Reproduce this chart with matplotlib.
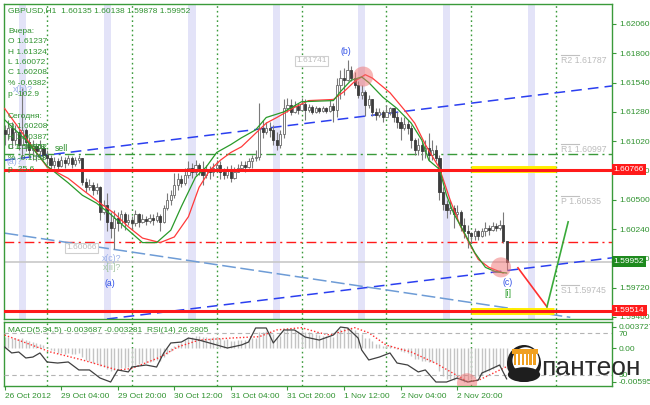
import numpy as np
import matplotlib
matplotlib.use("Agg")
import matplotlib.pyplot as plt
import matplotlib.transforms as mtransforms
from matplotlib.patches import Ellipse, Rectangle

plt.rcParams['font.family'] = ['Liberation Sans', 'DejaVu Sans']

W, H = 650, 405

# ---------------- data: GBPUSD H1, 26 Oct - 5 Nov 2012 ----------------
first_open = 1.6112
closes = [
    1.6108, 1.6114, 1.6103, 1.6110, 1.6099, 1.6112, 1.6101, 1.6094, 1.6098, 1.6093,
    1.6096, 1.6090, 1.6087, 1.6081, 1.6084, 1.6080, 1.6085, 1.6083, 1.6087, 1.6082,
    1.6085, 1.6087, 1.6066, 1.6061, 1.6063, 1.6059, 1.6061, 1.6039, 1.6045, 1.6030,
    1.6025, 1.6034, 1.6029, 1.6037, 1.6030, 1.6032, 1.6029, 1.6037, 1.6030, 1.6033,
    1.6031, 1.6034, 1.6032, 1.6036, 1.6030, 1.6043, 1.6050, 1.6054, 1.6063, 1.6068,
    1.6065, 1.6072, 1.6078, 1.6075, 1.6081, 1.6077, 1.6072, 1.6077, 1.6075, 1.6078,
    1.6081, 1.6075, 1.6072, 1.6077, 1.6069, 1.6075, 1.6078, 1.6081, 1.6079, 1.6084,
    1.6087, 1.6088, 1.6114, 1.6110, 1.6114, 1.6112, 1.6103, 1.6099, 1.6108, 1.6131,
    1.6134, 1.6128, 1.6133, 1.6130, 1.6135, 1.6130, 1.6132, 1.6128, 1.6131, 1.6129,
    1.6131, 1.6129, 1.6133, 1.6130, 1.6152, 1.6158, 1.6156, 1.6165, 1.6158, 1.6152,
    1.6143, 1.6146, 1.6134, 1.6139, 1.6128, 1.6125, 1.6128, 1.6123, 1.6128, 1.6131,
    1.6123, 1.6119, 1.6114, 1.6117, 1.6114, 1.6103, 1.6094, 1.6099, 1.6093, 1.6096,
    1.6090, 1.6094, 1.6087, 1.6057, 1.6046, 1.6041, 1.6043, 1.6037, 1.6039, 1.6028,
    1.6022, 1.60208, 1.6018, 1.6022, 1.6018, 1.6022, 1.6025, 1.6023, 1.6027, 1.6025,
    1.6028, 1.60135, 1.59952]
highs = [
    1.6116, 1.6121, 1.6119, 1.6116, 1.6114, 1.6149, 1.6114, 1.6105, 1.6103, 1.6100,
    1.6103, 1.6099, 1.6094, 1.6090, 1.6088, 1.6087, 1.6089, 1.6088, 1.6090, 1.6089,
    1.6088, 1.6090, 1.6087, 1.6069, 1.6068, 1.6066, 1.6065, 1.6062, 1.6050, 1.6056,
    1.6039, 1.6041, 1.6039, 1.6041, 1.6039, 1.6037, 1.6036, 1.6041, 1.6038, 1.6037,
    1.6036, 1.6037, 1.6037, 1.6039, 1.6037, 1.6045, 1.6056, 1.6059, 1.6074, 1.6074,
    1.6072, 1.6078, 1.6084, 1.6083, 1.6085, 1.6083, 1.6084, 1.6081, 1.6080, 1.6083,
    1.6085, 1.6084, 1.6078, 1.6080, 1.6081, 1.6079, 1.6082, 1.6084, 1.6084, 1.6087,
    1.6090, 1.6094, 1.6136, 1.6121, 1.6119, 1.6119, 1.6116, 1.6110, 1.6112, 1.6139,
    1.6140, 1.6139, 1.6138, 1.6136, 1.6140, 1.6139, 1.6135, 1.6134, 1.6133, 1.6132,
    1.6133, 1.6132, 1.6139, 1.6136, 1.6158, 1.6165, 1.6167, 1.61741, 1.6169, 1.6163,
    1.6155, 1.6152, 1.6147, 1.6143, 1.6139, 1.6131, 1.6131, 1.6130, 1.6134, 1.61324,
    1.6131, 1.6128, 1.6123, 1.6123, 1.6121, 1.6116, 1.6105, 1.6105, 1.6101, 1.6103,
    1.6109, 1.6103, 1.6099, 1.6090, 1.6061, 1.6050, 1.6050, 1.6045, 1.6045, 1.6041,
    1.6034, 1.6028, 1.6021, 1.6025, 1.6023, 1.6025, 1.6030, 1.6028, 1.6030, 1.6029,
    1.6032, 1.60387, 1.60138]
lows = [
    1.6099, 1.6103, 1.6096, 1.6099, 1.6094, 1.6087, 1.6093, 1.6087, 1.6085, 1.6084,
    1.6087, 1.6085, 1.6081, 1.6077, 1.6078, 1.6077, 1.6079, 1.6078, 1.6081, 1.6078,
    1.6080, 1.6083, 1.6063, 1.6057, 1.6059, 1.6054, 1.6055, 1.6032, 1.6037, 1.6022,
    1.6016, 1.60066, 1.6022, 1.6025, 1.6023, 1.6028, 1.6023, 1.6027, 1.6026, 1.6029,
    1.6028, 1.6029, 1.6028, 1.6030, 1.6022, 1.6029, 1.6041, 1.6045, 1.6052, 1.6059,
    1.6061, 1.6063, 1.6069, 1.6069, 1.6072, 1.6072, 1.6063, 1.6069, 1.6068, 1.6071,
    1.6075, 1.6068, 1.6068, 1.6069, 1.6066, 1.6068, 1.6075, 1.6077, 1.6075, 1.6078,
    1.6078, 1.6084, 1.6085, 1.6105, 1.6108, 1.6106, 1.6099, 1.6094, 1.6096, 1.6105,
    1.6128, 1.6125, 1.6127, 1.6126, 1.6130, 1.6121, 1.6128, 1.6126, 1.6127, 1.6127,
    1.6128, 1.6127, 1.6128, 1.6119, 1.6123, 1.6139, 1.6143, 1.6155, 1.6155, 1.6149,
    1.6140, 1.6139, 1.6124, 1.6131, 1.6124, 1.6121, 1.6123, 1.6119, 1.6123, 1.6125,
    1.6119, 1.6114, 1.6103, 1.6112, 1.6108, 1.6096, 1.6090, 1.6090, 1.6085, 1.6087,
    1.6084, 1.6085, 1.6084, 1.6050, 1.6041, 1.6034, 1.6037, 1.6025, 1.6032, 1.6022,
    1.6016, 1.60072, 1.6012, 1.6014, 1.6014, 1.6017, 1.6018, 1.6019, 1.6022, 1.6022,
    1.6023, 1.6012, 1.59878]

# two smoothed averages (green = fast, red = slow), read at sample bars
green_ma_bars = [0, 6, 12, 18, 22, 26, 30, 35, 39, 43, 47, 50, 54, 57, 60, 64, 67, 71, 74,
                 79, 84, 93, 95, 98, 101, 103, 107, 111, 115, 118, 120, 123, 125, 127,
                 130, 133, 136, 139, 142]
green_ma = [1.6121, 1.6103, 1.6080, 1.6065, 1.6054, 1.6047, 1.6037, 1.6023, 1.6012, 1.6012,
            1.6023, 1.6044, 1.6070, 1.6079, 1.6092, 1.6099, 1.6105, 1.6112, 1.6123,
            1.6128, 1.6137, 1.6138, 1.6146, 1.6156, 1.6159, 1.6154, 1.6141, 1.6131,
            1.6118, 1.6103, 1.6085, 1.6077, 1.6054, 1.6038, 1.6021, 1.6003, 1.5990,
            1.5986, 1.5985]
red_ma_bars = [0, 12, 18, 22, 27, 31, 35, 39, 44, 48, 52, 55, 58, 61, 64, 67, 70, 74, 77,
               82, 86, 93, 96, 99, 102, 104, 109, 113, 116, 119, 123, 126, 129, 132,
               134, 137, 141]
red_ma = [1.6131, 1.6079, 1.6069, 1.6059, 1.6047, 1.6038, 1.6026, 1.6016, 1.6012, 1.6017,
          1.6035, 1.6061, 1.6076, 1.6085, 1.6092, 1.6097, 1.6106, 1.6118, 1.6123,
          1.6132, 1.6138, 1.6139, 1.6146, 1.6155, 1.6161, 1.6158, 1.6145, 1.6130,
          1.6118, 1.6099, 1.6078, 1.6050, 1.6026, 1.6008, 1.5997, 1.5990, 1.5985]

# MACD(5,34,5) histogram, x 0.001
macd_hist = [
    2.0, 1.9, 1.8, 1.8, 1.6, 1.7, 1.5, 1.2, 1.1, 0.9,
    0.8, 0.5, 0.2, -0.3, -0.5, -0.8, -0.8, -1.0, -0.9, -1.1,
    -1.0, -0.9, -1.6, -2.1, -2.3, -2.6, -2.6, -3.2, -3.3, -3.7,
    -4.0, -3.8, -3.8, -3.5, -3.5, -3.3, -3.3, -3.0, -2.9, -2.7,
    -2.6, -2.4, -2.3, -2.1, -2.2, -1.6, -1.0, -0.5, 0.3, 0.8,
    0.9, 1.4, 1.9, 1.9, 2.2, 2.1, 1.9, 1.9, 1.8, 1.9,
    2.0, 1.7, 1.5, 1.6, 1.2, 1.3, 1.4, 1.5, 1.4, 1.6,
    1.8, 1.8, 2.8, 2.9, 3.0, 2.9, 2.4, 2.0, 2.1, 3.0,
    3.3, 3.1, 3.2, 3.0, 3.1, 2.8, 2.8, 2.6, 2.5, 2.3,
    2.2, 2.1, 2.2, 2.0, 3.0, 3.4, 3.6, 3.727, 3.5, 3.2,
    2.6, 2.4, 1.8, 1.7, 1.2, 0.8, 0.7, 0.4, 0.5, 0.6,
    0.2, -0.2, -0.6, -0.7, -0.9, -1.4, -1.9, -2.0, -2.3, -2.3,
    -2.5, -2.4, -2.6, -4.0, -4.9, -5.4, -5.5, -5.7, -5.5, -5.6,
    -5.95, -5.7, -5.4, -5.2, -5.0, -4.7, -4.3, -4.0, -3.7, -3.4,
    -3.1, -3.3, -3.687]
signal_bars = [0, 13, 22, 32, 36, 44, 49, 55, 65, 72, 77, 84, 89, 92, 99, 103, 108,
               115, 122, 127, 131, 134, 138, 142]
signal_vals = [2.3, -0.7, -2.1, -3.9, -3.6, -1.6, 0.2, 1.4, 1.8, 2.0, 3.2, 3.6, 2.7, 2.3,
               3.6, 2.7, 0.5, -0.7, -2.7, -4.5, -5.95, -5.7, -4.5, -3.281]
rsi_bars = [0, 2, 4, 6, 8, 10, 12, 15, 18, 21, 24, 27, 30, 32, 35, 36, 40, 43, 45, 47,
            50, 52, 55, 60, 63, 67, 69, 71, 74, 76, 79, 82, 85, 89, 93, 95, 97, 100, 101,
            103, 106, 109, 111, 114, 117, 119, 122, 125, 128, 131, 134, 135, 137, 140, 142]
rsi_vals = [56.7, 51.0, 51.9, 46.2, 47.1, 51.0, 42.4, 41.4, 42.4, 34.8, 34.8, 27.1, 23.3,
            34.8, 32.9, 37.6, 39.5, 37.6, 51.0, 60.5, 61.4, 65.2, 63.3, 58.6, 55.7, 58.6,
            61.4, 74.8, 74.8, 60.5, 72.9, 72.9, 66.2, 63.3, 68.1, 75.7, 74.8, 65.2, 53.8,
            44.3, 47.1, 51.0, 41.4, 39.5, 32.9, 34.8, 23.3, 23.3, 27.1, 23.3, 25.2, 31.9,
            34.8, 39.5, 26.28]

# drawn objects
red_levels = [1.60766, 1.59514]
green_dashdot = 1.60907
red_dashdot = 1.60126
bid = 1.59952
pivots = [("R2", 1.61787), ("R1", 1.60997), ("P", 1.60535), ("S1", 1.59745)]
upper_channel = [(0, 1.60851), (170, 1.61503)]
lower_channel = [(100, 1.59712), (170, 1.59978)]
light_line = ([0, 160], [1.60204, 1.59457])
forecast_red = ([145.2, 153.4], [1.59896, 1.59550])
forecast_green = ([153.4, 159.4], [1.59550, 1.60304])

sep_bars = [12, 36, 60, 84, 108, 132, 156]
band_bars = [5, 29, 53, 77, 101, 125, 149]
time_bars = [0, 16, 32, 48, 64, 80, 96, 112, 128]
time_labels = ["26 Oct 2012", "29 Oct 04:00", "29 Oct 20:00", "30 Oct 12:00",
               "31 Oct 04:00", "31 Oct 20:00", "1 Nov 12:00", "2 Nov 04:00", "2 Nov 20:00"]
price_ticks = [1.62060, 1.61800, 1.61540, 1.61280, 1.61020, 1.60760, 1.60500, 1.60240,
               1.59980, 1.59720, 1.59460]

GREEN = '#3a9a3a'
GTXT = '#2f922f'
RED = '#ff1a1a'

# ---------------- figure ----------------
fig = plt.figure(figsize=(W / 100, H / 100), dpi=100)


def frac(x0, y0, x1, y1):
    return [x0 / W, 1 - y1 / H, (x1 - x0) / W, (y1 - y0) / H]


def px(x, y):
    return x / W, 1 - y / H


ax = fig.add_axes(frac(4, 4, 612, 319))
ax2 = fig.add_axes(frac(4, 322, 612, 386))
xlim = (-0.17, 171.8)

o = np.r_[first_open, closes[:-1]]
c = np.array(closes)
hi = np.array(highs)
lo = np.array(lows)
idx = np.arange(len(c))
up = c >= o

for b in band_bars:
    ax.axvspan(b - 1, b + 1, color='#e3e3f8', lw=0, zorder=0)
for a in (ax, ax2):
    for b in sep_bars:
        a.axvline(b, color=GREEN, ls=(0, (1.2, 2.2)), lw=1, zorder=1)

ax.axhline(bid, color='#c8c8c8', lw=1.2, zorder=1.5)
ax.axhline(green_dashdot, color=GREEN, lw=1, ls=(0, (7, 3, 1.5, 3)), zorder=2)
ax.axhline(red_dashdot, color=RED, lw=1, ls=(0, (7, 3, 1.5, 3)), zorder=2)
ax.axline(*upper_channel, color='#2b3ff0', lw=1.1, ls=(0, (7, 4)), zorder=2)
ax.axline(*lower_channel, color='#2b3ff0', lw=1.1, ls=(0, (7, 4)), zorder=2)
ax.plot(*light_line, color='#6e9cd6', lw=1.1, ls=(0, (9, 3)), zorder=2)

# candles
ax.vlines(idx, lo, hi, color='#7a7a7a', lw=0.8, zorder=3)
ax.bar(idx[up], np.maximum((c - o)[up], 0.00002), bottom=o[up], width=0.62,
       color='white', edgecolor='#6a6a6a', lw=0.6, zorder=4)
ax.bar(idx[~up], (o - c)[~up], bottom=c[~up], width=0.62,
       color='#3c3c3c', edgecolor='#3c3c3c', lw=0.6, zorder=4)

ax.plot(red_ma_bars, red_ma, color='#ff3a3a', lw=0.9, zorder=5)
ax.plot(green_ma_bars, green_ma, color='#2a9a2a', lw=0.9, zorder=5)

# support / resistance
ax.plot([132, 156], [red_levels[0] + 0.00008] * 2, color='#ffee00', lw=5, zorder=5.5,
        solid_capstyle='butt')
ax.plot([132, 155.5], [red_levels[1]] * 2, color='#ffee00', lw=5, zorder=5.5,
        solid_capstyle='butt')
for lv in red_levels:
    ax.axhline(lv, color=RED, lw=2.2, zorder=6)

ax.plot(*forecast_red, color='#ff3030', lw=1.2, zorder=6)
ax.plot(*forecast_green, color='#3aaa3a', lw=1.2, zorder=6)

for (bx, by) in [(101.4, 1.61593), (140.4, 1.5990)]:
    ax.add_patch(Ellipse((bx, by), 5.7, 0.00178, color='#f07070', alpha=0.5,
                         lw=0, zorder=7))

# pivot labels
for name, lv in pivots:
    ax.plot([157.5, 162.5], [lv, lv], color='#c0c0c0', lw=0.8, zorder=6)
    ax.text(157.5, lv - 0.00012, f"{name} {lv:.5f}", color='#bcbcbc', fontsize=6.3,
            va='top', ha='left', zorder=6)

# wave labels
wave = [("(b)", 96.6, 1.61812, '#3050e8'), ("x(b)?", 5.2, 1.61475, '#9ab0e8'),
        ("(a)?", 2.7, 1.60836, '#9ab0e8'), ("x(c)?", 30.4, 1.59976, '#9ab0e8'),
        ("x[ii]?", 30.4, 1.59896, '#a8c8a8'), ("(a)", 29.8, 1.59754, '#3050e8'),
        ("(c)", 142.4, 1.59763, '#3050e8'), ("[i]", 142.4, 1.59665, '#30a030'),
        ("sell", 16.2, 1.60952, GTXT)]
for s, bx, by, col in wave:
    ax.text(bx, by, s, color=col, fontsize=6.3, ha='center', va='center', zorder=8)

for s, bx, by in [("1.61741", 82.5, 1.61732), ("1.60066", 17.5, 1.60073)]:
    ax.text(bx, by, s, color='#bdbdbd', fontsize=6, ha='left', va='center', zorder=8,
            bbox=dict(boxstyle='square,pad=0.15', fc='white', ec='#cfcfcf', lw=0.8))

ax.set_xlim(*xlim)
ax.set_ylim(1.59442, 1.62237)
ax.set_xticks([])
ax.yaxis.tick_right()
ax.set_yticks(price_ticks)
ax.set_yticklabels([f"{t:.5f}" for t in price_ticks])
ax.tick_params(axis='y', direction='out', length=3, width=0.8, color=GREEN,
               labelcolor=GTXT, labelsize=6, pad=2)

trans = mtransforms.blended_transform_factory(ax.transAxes, ax.transData)
for s, lv, fc in [("1.60766", 1.60766, RED), ("1.59514", 1.59514, RED),
                  ("1.59952", bid, '#1e8a1e')]:
    ax.text(1.003, lv, s, transform=trans, color='white', fontsize=6, ha='left',
            va='center', clip_on=False, zorder=10,
            bbox=dict(boxstyle='square,pad=0.25', fc=fc, ec='none'))

# ---------------- MACD / RSI ----------------
hist = np.array(macd_hist) * 1e-3
ax2.vlines(idx, 0, hist, color='#c4c4c4', lw=1, zorder=2)
ax2.plot(signal_bars, np.array(signal_vals) * 1e-3, color='#ff3030', lw=1,
         ls=(0, (1, 1.5)), zorder=4)
ax2.set_xlim(*xlim)
ax2.set_ylim(-6.7e-3, 4.6e-3)

ax3 = ax2.twinx()
ax3.axhline(70, color='#b4b4b4', lw=0.8, ls=(0, (4, 3)), zorder=1)
ax3.axhline(30, color='#b4b4b4', lw=0.8, ls=(0, (4, 3)), zorder=1)
ax3.plot(rsi_bars, rsi_vals, color='#404040', lw=0.9, zorder=3)
ax3.add_patch(Ellipse((130.8, 22.2), 5.7, 19, color='#f07070', alpha=0.5, lw=0, zorder=5))
ax3.set_ylim(19.5, 80.5)
ax3.set_yticks([70, 30])
ax3.set_yticklabels(["70", "30"])
ax3.tick_params(axis='y', direction='out', length=0, labelcolor=GTXT, labelsize=6, pad=5)
for sp in ax3.spines.values():
    sp.set_visible(False)

# twinx resets the left axis, so set its ticks afterwards
ax2.yaxis.tick_right()
ax2.set_yticks([0.003727, 0.0, -0.00595])
ax2.set_yticklabels(["0.003727", "0.00", "-0.00595"])
ax2.tick_params(axis='y', direction='out', length=3, width=0.8, color=GREEN,
                labelcolor=GTXT, labelsize=6, pad=2, left=False, labelleft=False,
                right=True, labelright=True)
ax2.set_xticks(time_bars)
ax2.set_xticklabels(time_labels)
ax2.tick_params(axis='x', direction='out', length=3, width=0.8, color=GREEN,
                labelcolor=GTXT, labelsize=6, pad=2)
for lab in ax2.get_xticklabels():
    lab.set_ha('left')

for a in (ax, ax2):
    for sp in a.spines.values():
        sp.set_color(GREEN)
        sp.set_linewidth(1)

ax2.text(0.006, 0.86, "MACD(5,34,5) -0.003687 -0.003281  RSI(14) 26.2805",
         transform=ax2.transAxes, color=GTXT, fontsize=6, ha='left', va='center', zorder=6)

# ---------------- info text block ----------------
fig.text(*px(8, 11), "GBPUSD,H1  1.60135 1.60138 1.59878 1.59952", color=GTXT,
         fontsize=6, va='center', ha='left')
info = [("Вчера:", 31.5), ("O 1.61237", 41.8), ("H 1.61324", 52.2), ("L 1.60072", 62.5),
        ("C 1.60208", 72.8), ("% -0.6382", 83.2), ("p -102.9", 94),
        ("Сегодня:", 116.5), ("O 1.60208", 126.8), ("H 1.60387", 137),
        ("L 1.59878", 147.3), ("C 1.59952", 147.3), ("% -0.1598", 158), ("p -25.6", 169.5)]
for s, y in info:
    fig.text(*px(8, y), s, color=GTXT, fontsize=6, va='center', ha='left', zorder=9)

# ---------------- logo ----------------
lax = fig.add_axes(frac(507, 345, 541, 382))
lax.set_xlim(0, 1)
lax.set_ylim(0, 1)
lax.axis('off')
lax.add_patch(Ellipse((0.5, 0.5), 1.0, 1.0, fc='#1e1e1e', ec='none'))
lax.add_patch(Ellipse((0.55, 0.58), 0.78, 0.72, fc='white', ec='none'))
lax.add_patch(Rectangle((0.14, 0.76), 0.76, 0.14, fc='#f0a020', ec='none'))
for k in range(6):
    lax.add_patch(Rectangle((0.2 + k * 0.115, 0.45), 0.07, 0.31, fc='#f0a020', ec='none'))
lax.add_patch(Ellipse((0.5, 0.2), 0.95, 0.4, fc='#1e1e1e', ec='none'))
fig.text(*px(541, 368), "пантеон", color='#2a2a2a', fontsize=19, va='center', ha='left')

fig.savefig("out.png", dpi=100)
